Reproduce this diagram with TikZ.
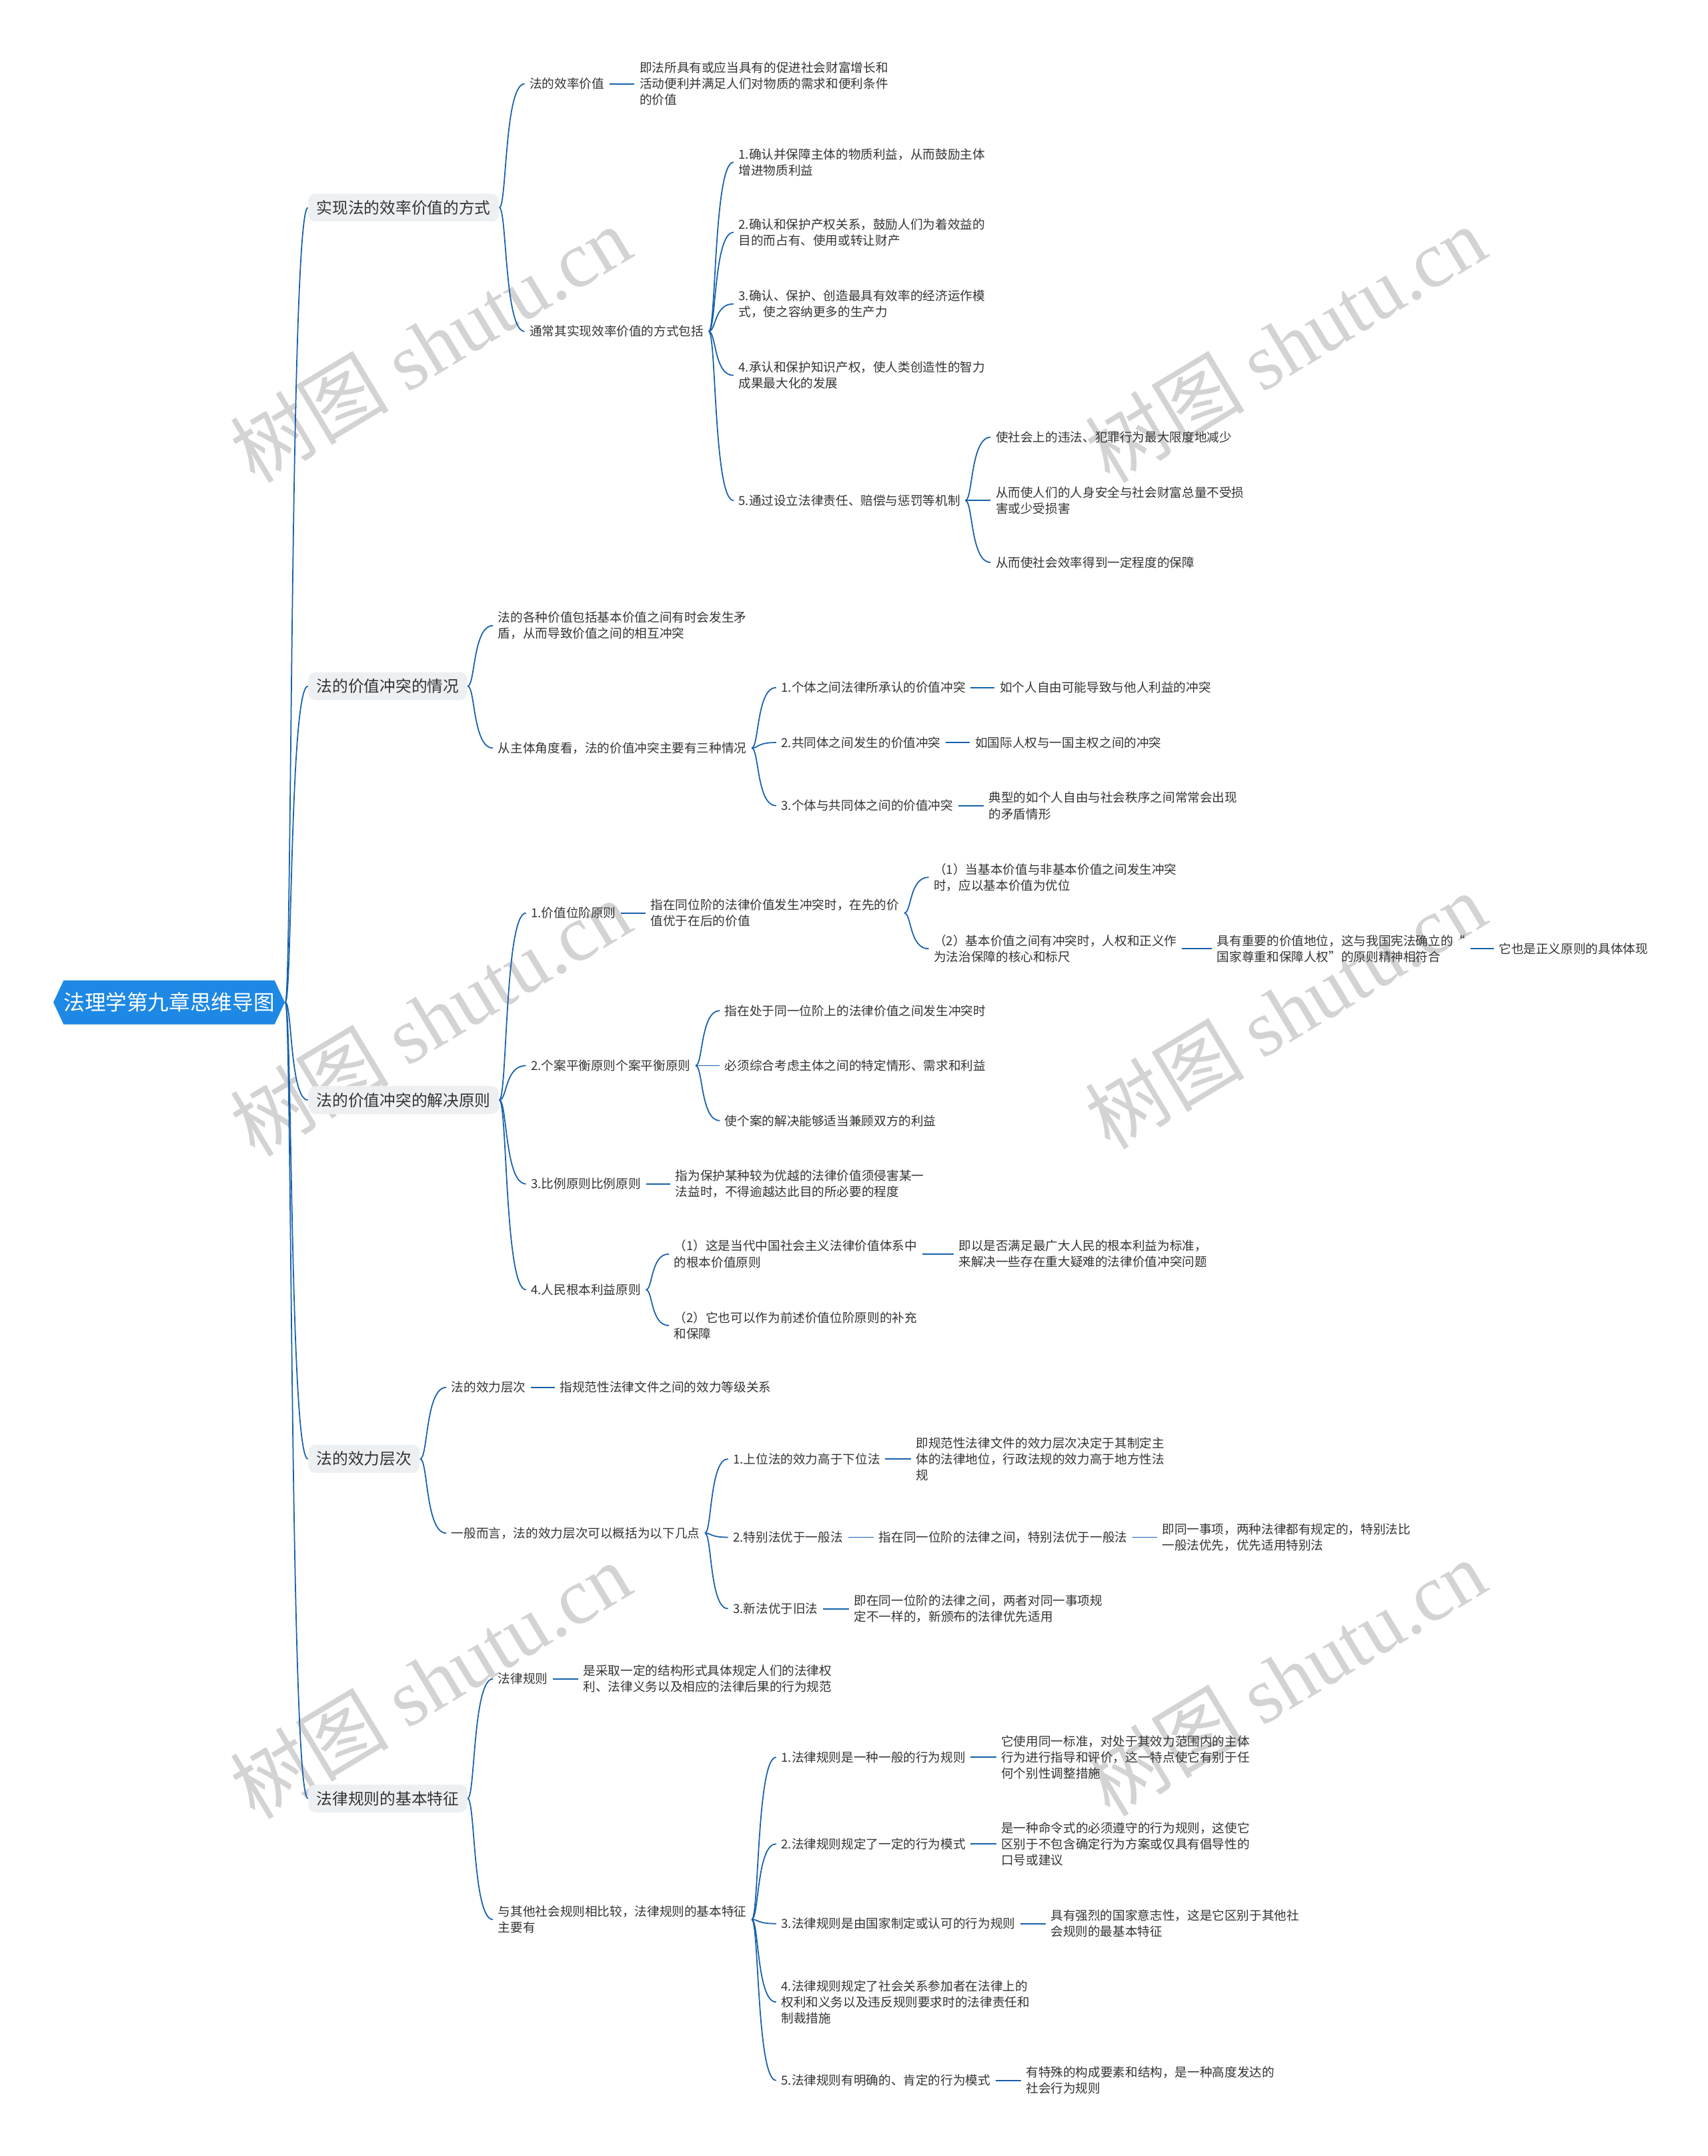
\documentclass[tikz,border=0pt]{standalone}
\usepackage{fontspec}
\setmainfont{Noto Sans CJK SC}
\newfontfamily\markfont{Liberation Serif}
\usetikzlibrary{calc,shapes.symbols}

\definecolor{rootblue}{RGB}{30,136,229}
\definecolor{linkblue}{RGB}{22,96,170}
\definecolor{boxgray}{RGB}{237,240,243}
\definecolor{textgray}{RGB}{51,51,51}
\definecolor{markgray}{RGB}{200,200,200}

\tikzset{
  leaf/.style={anchor=west, xshift=-2pt, inner xsep=2pt, inner ysep=1pt, align=left,
    text=textgray, font=\fontsize{5.3}{6.85}\selectfont},
  topic/.style={anchor=west, fill=boxgray, rounded corners=3pt, inner xsep=3.5pt,
    inner ysep=2.8pt, text=textgray, font=\fontsize{6.75}{8}\selectfont},
  rootbox/.style={shape=signal, signal to=west and east, signal pointer angle=130,
    fill=rootblue, text=white, minimum width=3.44cm, minimum height=0.66cm,
    inner sep=0pt, font=\fontsize{9}{10}\selectfont},
  branch/.style={draw=linkblue, line width=0.5pt,
    to path={let \p1=(\tikztostart), \p2=(\tikztotarget) in
      .. controls ({\x1+0.3*(\x2-\x1)},\y1) and ({\x1+0.2*(\x2-\x1)},\y2) .. (\tikztotarget)}},
  wmark/.style={rotate=31, text=markgray, opacity=0.8, font=\fontsize{34}{34}\selectfont}
}

\begin{document}
\begin{tikzpicture}[x=0.02061cm, y=-0.02061cm]

\useasboundingbox (0,0) rectangle (1242,1568);

% Watermarks behind the map
\node[wmark] (wm1) at (313,250) {树图 {\markfont shutu.cn}};
\node[wmark] (wm2) at (935,250) {树图 {\markfont shutu.cn}};
\node[wmark] (wm3) at (313,740) {树图 {\markfont shutu.cn}};
\node[wmark] (wm4) at (935,735) {树图 {\markfont shutu.cn}};
\node[wmark] (wm5) at (313,1222) {树图 {\markfont shutu.cn}};
\node[wmark] (wm6) at (935,1220) {树图 {\markfont shutu.cn}};

% Root and main topics
\node[rootbox] (root) at (123,729) {法理学第九章思维导图};

\node[topic] (effic) at (224,151) {实现法的效率价值的方式};
\node[topic] (clash) at (224,499) {法的价值冲突的情况};
\node[topic] (solve) at (224,800) {法的价值冲突的解决原则};
\node[topic] (force) at (224,1061) {法的效力层次};
\node[topic] (rule) at (224,1308) {法律规则的基本特征};

% Efficiency value
\node[leaf] (effic-a) at (385,61) {法的效率价值};
\node[leaf] (effic-a1) at (465,61) {即法所具有或应当具有的促进社会财富增长和\\活动便利并满足人们对物质的需求和便利条件\\的价值};
\node[leaf] (effic-b) at (385,241) {通常其实现效率价值的方式包括};
\node[leaf] (effic-b1) at (537,118) {1.确认并保障主体的物质利益，从而鼓励主体\\增进物质利益};
\node[leaf] (effic-b2) at (537,169) {2.确认和保护产权关系，鼓励人们为着效益的\\目的而占有、使用或转让财产};
\node[leaf] (effic-b3) at (537,221) {3.确认、保护、创造最具有效率的经济运作模\\式，使之容纳更多的生产力};
\node[leaf] (effic-b4) at (537,273) {4.承认和保护知识产权，使人类创造性的智力\\成果最大化的发展};
\node[leaf] (effic-b5) at (537,364) {5.通过设立法律责任、赔偿与惩罚等机制};
\node[leaf] (effic-b5a) at (724,318) {使社会上的违法、犯罪行为最大限度地减少};
\node[leaf] (effic-b5b) at (724,364) {从而使人们的人身安全与社会财富总量不受损\\害或少受损害};
\node[leaf] (effic-b5c) at (724,409) {从而使社会效率得到一定程度的保障};

% Value conflicts
\node[leaf] (clash-a) at (362,455) {法的各种价值包括基本价值之间有时会发生矛\\盾，从而导致价值之间的相互冲突};
\node[leaf] (clash-b) at (362,544) {从主体角度看，法的价值冲突主要有三种情况};
\node[leaf] (clash-b1) at (568,500) {1.个体之间法律所承认的价值冲突};
\node[leaf] (clash-b1a) at (727,500) {如个人自由可能导致与他人利益的冲突};
\node[leaf] (clash-b2) at (568,540) {2.共同体之间发生的价值冲突};
\node[leaf] (clash-b2a) at (709,540) {如国际人权与一国主权之间的冲突};
\node[leaf] (clash-b3) at (568,586) {3.个体与共同体之间的价值冲突};
\node[leaf] (clash-b3a) at (719,586) {典型的如个人自由与社会秩序之间常常会出现\\的矛盾情形};

% Principles for solving conflicts
\node[leaf] (solve-a) at (386,664) {1.价值位阶原则};
\node[leaf] (solve-a1) at (473,664) {指在同位阶的法律价值发生冲突时，在先的价\\值优于在后的价值};
\node[leaf] (solve-a1a) at (679,638) {（1）当基本价值与非基本价值之间发生冲突\\时，应以基本价值为优位};
\node[leaf] (solve-a1b) at (679,690) {（2）基本价值之间有冲突时，人权和正义作\\为法治保障的核心和标尺};
\node[leaf] (solve-a1b1) at (885,690) {具有重要的价值地位，这与我国宪法确立的“\\国家尊重和保障人权”的原则精神相符合};
\node[leaf] (solve-a1b2) at (1090,690) {它也是正义原则的具体体现};
\node[leaf] (solve-b) at (386,775) {2.个案平衡原则个案平衡原则};
\node[leaf] (solve-b1) at (527,735) {指在处于同一位阶上的法律价值之间发生冲突时};
\node[leaf] (solve-b2) at (527,775) {必须综合考虑主体之间的特定情形、需求和利益};
\node[leaf] (solve-b3) at (527,815) {使个案的解决能够适当兼顾双方的利益};
\node[leaf] (solve-c) at (386,861) {3.比例原则比例原则};
\node[leaf] (solve-c1) at (491,861) {指为保护某种较为优越的法律价值须侵害某一\\法益时，不得逾越达此目的所必要的程度};
\node[leaf] (solve-d) at (386,938) {4.人民根本利益原则};
\node[leaf] (solve-d1) at (490,912) {（1）这是当代中国社会主义法律价值体系中\\的根本价值原则};
\node[leaf] (solve-d1a) at (697,912) {即以是否满足最广大人民的根本利益为标准，\\来解决一些存在重大疑难的法律价值冲突问题};
\node[leaf] (solve-d2) at (490,964) {（2）它也可以作为前述价值位阶原则的补充\\和保障};

% Hierarchy of legal force
\node[leaf] (force-a) at (328,1009) {法的效力层次};
\node[leaf] (force-a1) at (407,1009) {指规范性法律文件之间的效力等级关系};
\node[leaf] (force-b) at (328,1115) {一般而言，法的效力层次可以概括为以下几点};
\node[leaf] (force-b1) at (533,1061) {1.上位法的效力高于下位法};
\node[leaf] (force-b1a) at (666,1061) {即规范性法律文件的效力层次决定于其制定主\\体的法律地位，行政法规的效力高于地方性法\\规};
\node[leaf] (force-b2) at (533,1118) {2.特别法优于一般法};
\node[leaf] (force-b2a) at (639,1118) {指在同一位阶的法律之间，特别法优于一般法};
\node[leaf] (force-b2b) at (845,1118) {即同一事项，两种法律都有规定的，特别法比\\一般法优先，优先适用特别法};
\node[leaf] (force-b3) at (533,1170) {3.新法优于旧法};
\node[leaf] (force-b3a) at (621,1170) {即在同一位阶的法律之间，两者对同一事项规\\定不一样的，新颁布的法律优先适用};

% Features of legal rules
\node[leaf] (rule-a) at (362,1221) {法律规则};
\node[leaf] (rule-a1) at (424,1221) {是采取一定的结构形式具体规定人们的法律权\\利、法律义务以及相应的法律后果的行为规范};
\node[leaf] (rule-b) at (362,1396) {与其他社会规则相比较，法律规则的基本特征\\主要有};
\node[leaf] (rule-b1) at (568,1278) {1.法律规则是一种一般的行为规则};
\node[leaf] (rule-b1a) at (728,1278) {它使用同一标准，对处于其效力范围内的主体\\行为进行指导和评价，这一特点使它有别于任\\何个别性调整措施};
\node[leaf] (rule-b2) at (568,1341) {2.法律规则规定了一定的行为模式};
\node[leaf] (rule-b2a) at (728,1341) {是一种命令式的必须遵守的行为规则，这使它\\区别于不包含确定行为方案或仅具有倡导性的\\口号或建议};
\node[leaf] (rule-b3) at (568,1399) {3.法律规则是由国家制定或认可的行为规则};
\node[leaf] (rule-b3a) at (764,1399) {具有强烈的国家意志性，这是它区别于其他社\\会规则的最基本特征};
\node[leaf] (rule-b4) at (568,1456) {4.法律规则规定了社会关系参加者在法律上的\\权利和义务以及违反规则要求时的法律责任和\\制裁措施};
\node[leaf] (rule-b5) at (568,1513) {5.法律规则有明确的、肯定的行为模式};
\node[leaf] (rule-b5a) at (746,1513) {有特殊的构成要素和结构，是一种高度发达的\\社会行为规则};

% Draw the branches
\draw[branch] (root.east) to (effic.west);
\draw[branch] (root.east) to (clash.west);
\draw[branch] (root.east) to (solve.west);
\draw[branch] (root.east) to (force.west);
\draw[branch] (root.east) to (rule.west);

\draw[branch] (effic.east) to (effic-a.west);
\draw[branch] (effic-a.east) to (effic-a1.west);
\draw[branch] (effic.east) to (effic-b.west);
\draw[branch] (effic-b.east) to (effic-b1.west);
\draw[branch] (effic-b.east) to (effic-b2.west);
\draw[branch] (effic-b.east) to (effic-b3.west);
\draw[branch] (effic-b.east) to (effic-b4.west);
\draw[branch] (effic-b.east) to (effic-b5.west);
\draw[branch] (effic-b5.east) to (effic-b5a.west);
\draw[branch] (effic-b5.east) to (effic-b5b.west);
\draw[branch] (effic-b5.east) to (effic-b5c.west);

\draw[branch] (clash.east) to (clash-a.west);
\draw[branch] (clash.east) to (clash-b.west);
\draw[branch] (clash-b.east) to (clash-b1.west);
\draw[branch] (clash-b1.east) to (clash-b1a.west);
\draw[branch] (clash-b.east) to (clash-b2.west);
\draw[branch] (clash-b2.east) to (clash-b2a.west);
\draw[branch] (clash-b.east) to (clash-b3.west);
\draw[branch] (clash-b3.east) to (clash-b3a.west);

\draw[branch] (solve.east) to (solve-a.west);
\draw[branch] (solve-a.east) to (solve-a1.west);
\draw[branch] (solve-a1.east) to (solve-a1a.west);
\draw[branch] (solve-a1.east) to (solve-a1b.west);
\draw[branch] (solve-a1b.east) to (solve-a1b1.west);
\draw[branch] (solve-a1b1.east) to (solve-a1b2.west);
\draw[branch] (solve.east) to (solve-b.west);
\draw[branch] (solve-b.east) to (solve-b1.west);
\draw[branch] (solve-b.east) to (solve-b2.west);
\draw[branch] (solve-b.east) to (solve-b3.west);
\draw[branch] (solve.east) to (solve-c.west);
\draw[branch] (solve-c.east) to (solve-c1.west);
\draw[branch] (solve.east) to (solve-d.west);
\draw[branch] (solve-d.east) to (solve-d1.west);
\draw[branch] (solve-d1.east) to (solve-d1a.west);
\draw[branch] (solve-d.east) to (solve-d2.west);

\draw[branch] (force.east) to (force-a.west);
\draw[branch] (force-a.east) to (force-a1.west);
\draw[branch] (force.east) to (force-b.west);
\draw[branch] (force-b.east) to (force-b1.west);
\draw[branch] (force-b1.east) to (force-b1a.west);
\draw[branch] (force-b.east) to (force-b2.west);
\draw[branch] (force-b2.east) to (force-b2a.west);
\draw[branch] (force-b2a.east) to (force-b2b.west);
\draw[branch] (force-b.east) to (force-b3.west);
\draw[branch] (force-b3.east) to (force-b3a.west);

\draw[branch] (rule.east) to (rule-a.west);
\draw[branch] (rule-a.east) to (rule-a1.west);
\draw[branch] (rule.east) to (rule-b.west);
\draw[branch] (rule-b.east) to (rule-b1.west);
\draw[branch] (rule-b1.east) to (rule-b1a.west);
\draw[branch] (rule-b.east) to (rule-b2.west);
\draw[branch] (rule-b2.east) to (rule-b2a.west);
\draw[branch] (rule-b.east) to (rule-b3.west);
\draw[branch] (rule-b3.east) to (rule-b3a.west);
\draw[branch] (rule-b.east) to (rule-b4.west);
\draw[branch] (rule-b.east) to (rule-b5.west);
\draw[branch] (rule-b5.east) to (rule-b5a.west);

\end{tikzpicture}
\end{document}
